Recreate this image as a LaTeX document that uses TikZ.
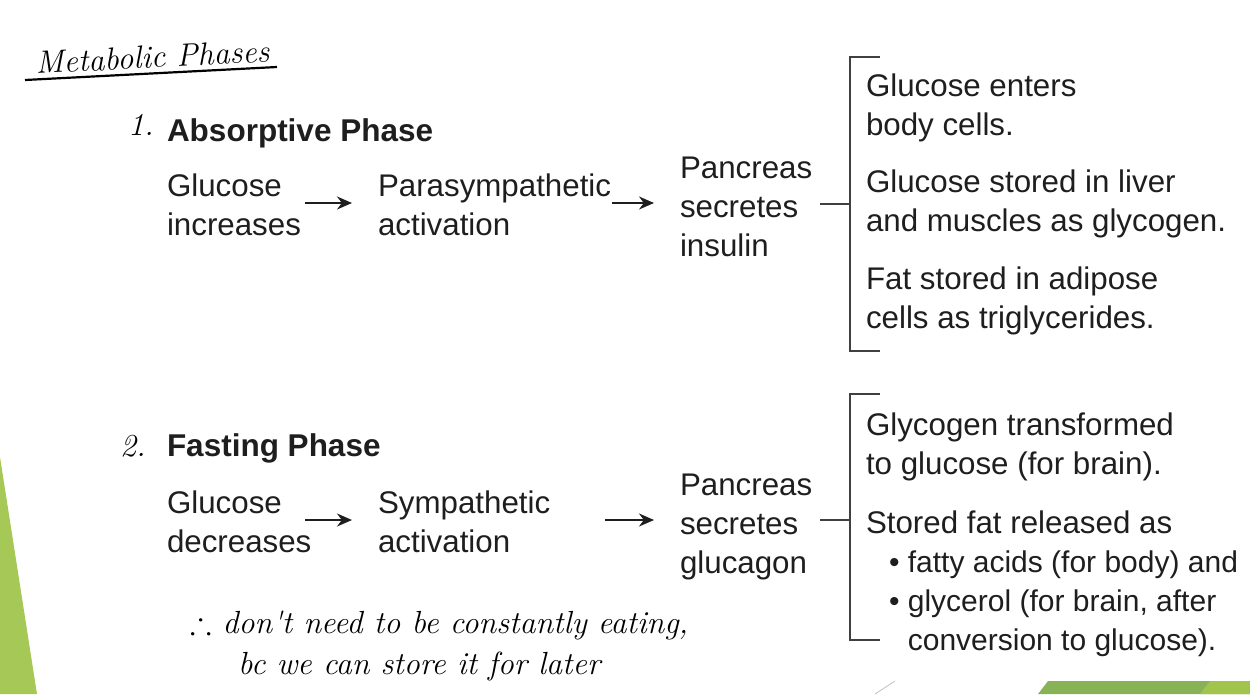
\documentclass[tikz,border=0pt]{standalone}
\usepackage{fontspec}
\usepackage{amssymb}
\setmainfont{Liberation Sans}
\newfontfamily\handfont{Latin Modern Roman}
\usetikzlibrary{arrows.meta}
\definecolor{txtc}{RGB}{30,30,30}
\definecolor{gA}{RGB}{166,200,86}
\definecolor{gB}{RGB}{136,178,86}
\definecolor{gC}{RGB}{160,196,76}
\tikzset{
  txt/.style={inner sep=0pt, outer sep=0pt, align=left, text=txtc, font=\fontsize{31.3}{39}\selectfont},
  small/.style={txt, font=\fontsize{30}{39}\selectfont},
  head/.style={txt, font=\fontsize{31.5}{39}\selectfont\bfseries},
  hand/.style={inner sep=0pt, text=black, font=\handfont\itshape\fontsize{32}{36}\selectfont},
  flow/.style={line width=2pt, draw=txtc, -{Stealth[length=15pt,width=13pt]}},
  brk/.style={line width=2pt, draw=txtc!85}
}
\begin{document}
\begin{tikzpicture}[x=1pt,y=-1pt]
\useasboundingbox (0,0) rectangle (1250,694);
% decorative green shapes
\fill[gA] (0,457) -- (37,694) -- (0,694) -- cycle;
\fill[gB] (1038,694) -- (1048,681) -- (1250,681) -- (1250,694) -- cycle;
\fill[gC] (1200,694) -- (1210,681) -- (1250,681) -- (1250,694) -- cycle;
\draw[black!25, line width=0.8pt] (875,694) -- (895,681);
% handwritten title
\node[hand, anchor=base west, rotate=3] (title) at (36,74) {Metabolic Phases};
\draw[line width=2.2pt] (25,80) -- (277,67);
% phase 1
\node[hand, anchor=base west] (n1) at (128,135) {1.};
\node[head, anchor=base west] (h1) at (167,141) {Absorptive Phase};
\node[txt, anchor=base west] (a1) at (167,235) {Glucose\\increases};
\node[txt, anchor=base west] (a2) at (378,235) {Parasympathetic\\activation};
\node[txt, anchor=base west] (a3) at (680,256) {Pancreas\\secretes\\insulin};
\coordinate (a1e) at (305,203);
\coordinate (a2s) at (352,203);
\coordinate (a2e) at (612,203);
\coordinate (a3s) at (654,203);
\draw[flow] (a1e) -- (a2s);
\draw[flow] (a2e) -- (a3s);
\coordinate (b1a) at (820,204);
\coordinate (b1b) at (850,204);
\draw[brk] (b1a) -- (b1b);
\draw[brk] (880,57) -- (850,57) -- (850,351) -- (880,351);
\node[txt, anchor=base west] (r1) at (866,135) {Glucose enters\\body cells.};
\node[txt, anchor=base west] (r2) at (866,231) {Glucose stored in liver\\and muscles as glycogen.};
\node[txt, anchor=base west] (r3) at (866,328) {Fat stored in adipose\\cells as triglycerides.};
% phase 2
\node[hand, anchor=base west] (n2) at (120,456) {2.};
\node[head, anchor=base west] (h2) at (167,456) {Fasting Phase};
\node[txt, anchor=base west] (f1) at (167,552) {Glucose\\decreases};
\node[txt, anchor=base west] (f2) at (378,552) {Sympathetic\\activation};
\node[txt, anchor=base west] (f3) at (680,573) {Pancreas\\secretes\\glucagon};
\coordinate (f1e) at (305,520);
\coordinate (f2s) at (352,520);
\coordinate (f2e) at (605,520);
\coordinate (f3s) at (654,520);
\draw[flow] (f1e) -- (f2s);
\draw[flow] (f2e) -- (f3s);
\coordinate (b2a) at (820,520);
\coordinate (b2b) at (850,520);
\draw[brk] (b2a) -- (b2b);
\draw[brk] (880,394) -- (850,394) -- (850,640) -- (880,640);
\node[txt, anchor=base west] (s1) at (866,474) {Glycogen transformed\\to glucose (for brain).};
\node[txt, anchor=base west] (s2) at (866,533) {Stored fat released as};
\node[small, anchor=base west] (s3) at (889,650) {\textbullet\ fatty acids (for body) and\\\textbullet\ glycerol (for brain, after\\\hphantom{\textbullet\ }conversion to glucose).};
% handwritten note
\node[hand, anchor=base west] (note1) at (190,633) {$\therefore$ don't need to be constantly eating,};
\node[hand, anchor=base west] (note2) at (238,674) {bc we can store it for later};
\end{tikzpicture}
\end{document}
